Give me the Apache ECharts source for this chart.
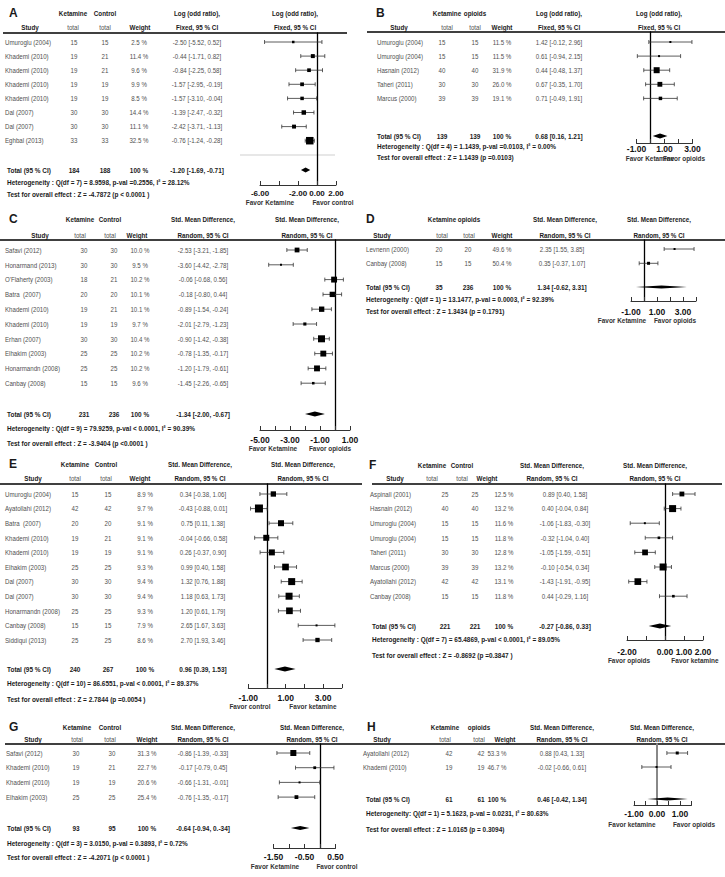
<!DOCTYPE html>
<html><head><meta charset="utf-8">
<script src="https://cdn.jsdelivr.net/npm/echarts@6/dist/echarts.min.js"></script>
<style>html,body{margin:0;padding:0;background:#fff}#c{width:725px;height:877px}</style>
</head><body><div id="c"></div>
<script>
// ---------------- DATA ----------------
// Panel A
const A_study = ['Umuroglu (2004)','Khademi (2010)','Khademi (2010)','Khademi (2010)','Khademi (2010)','Dal (2007)','Dal (2007)','Eghbal (2013)'];
const A_n1 = [15,19,19,19,19,30,30,33];
const A_n2 = [15,21,21,19,19,30,30,33];
const A_weight = [2.5,11.4,9.6,9.9,8.5,14.4,11.1,32.5];
const A_est = [-2.50,-0.44,-0.84,-1.57,-1.57,-1.39,-2.42,-0.76];
const A_lo  = [-5.52,-1.71,-2.25,-2.95,-3.10,-2.47,-3.71,-1.24];
const A_hi  = [0.52,0.82,0.58,-0.19,-0.04,-0.32,-1.13,-0.28];
const A_total = [184,188,-1.20,-1.69,-0.71];
const A_het = 'Heterogeneity : Q(df = 7) = 8.9598, p-val =0.2556, I\u00b2 = 28.12%';
const A_test = 'Test for overall effect : Z = -4.7872 (p < 0.0001 )';
const A_axis = [-6, 2, 2];
const A_tickLabels = [-6, -2, 0, 2];
const A_favor = ['Favor Ketamine','Favor control'];

// Panel B
const B_study = ['Umuroglu (2004)','Umuroglu (2004)','Hasnain (2012)','Taheri (2011)','Marcus (2000)'];
const B_n1 = [15,15,40,30,39];
const B_n2 = [15,15,40,30,39];
const B_weight = [11.5,11.5,31.9,26.0,19.1];
const B_est = [1.42,0.61,0.44,0.67,0.71];
const B_lo  = [-0.12,-0.94,-0.48,-0.35,-0.49];
const B_hi  = [2.96,2.15,1.37,1.70,1.91];
const B_total = [139,139,0.68,0.16,1.21];
const B_het = 'Heterogeneity : Q(df = 4) = 1.1439, p-val =0.0103, I\u00b2 = 0.00%';
const B_test = 'Test for overall effect : Z = 1.1439 (p =0.0103)';
const B_axis = [-1, 3, 1];
const B_tickLabels = [-1, 1, 3];
const B_favor = ['Favor Ketamine','Favor opioids'];

// Panel C
const C_study = ['Safavi (2012)','Honarmand (2013)',"O'Flaherty (2003)",'Batra  (2007)','Khademi (2010)','Khademi (2010)','Erhan (2007)','Elhakim (2003)','Honarmandn (2008)','Canbay (2008)'];
const C_n1 = [30,30,18,20,19,19,30,25,25,15];
const C_n2 = [30,30,21,20,21,19,30,25,25,15];
const C_weight = [10.0,9.5,10.2,10.1,10.1,9.7,10.4,10.2,10.2,9.6];
const C_est = [-2.53,-3.60,-0.06,-0.18,-0.89,-2.01,-0.90,-0.78,-1.20,-1.45];
const C_lo  = [-3.21,-4.42,-0.68,-0.80,-1.54,-2.79,-1.42,-1.35,-1.79,-2.26];
const C_hi  = [-1.85,-2.78,0.56,0.44,-0.24,-1.23,-0.38,-0.17,-0.61,-0.65];
const C_total = [231,236,-1.34,-2.00,-0.67];
const C_het = 'Heterogeneity : Q(df = 9) = 79.9259, p-val < 0.0001, I\u00b2 = 90.39%';
const C_test = 'Test for overall effect : Z = -3.9404 (p <0.0001 )';
const C_axis = [-5, 1, 1];
const C_tickLabels = [-5, -3, -1, 1];
const C_favor = ['Favor Ketamine','Favor opioids'];

// Panel D
const D_study = ['Levnenn (2000)','Canbay (2008)'];
const D_n1 = [20,15];
const D_n2 = [20,15];
const D_weight = [49.6,50.4];
const D_est = [2.35,0.35];
const D_lo  = [1.55,-0.37];
const D_hi  = [3.85,1.07];
const D_total = [35,236,1.34,-0.62,3.31];
const D_het = 'Heterogeneity : Q(df = 1) = 13.1477, p-val = 0.0003, I\u00b2 = 92.39%';
const D_test = 'Test for overall effect : Z = 1.3434 (p = 0.1791)';
const D_axis = [-1, 4, 1];
const D_tickLabels = [-1, 1, 3];
const D_favor = ['Favor Ketamine','Favor opioids'];

// Panel E
const E_study = ['Umuroglu (2004)','Ayatollahi (2012)','Batra  (2007)','Khademi (2010)','Khademi (2010)','Elhakim (2003)','Dal (2007)','Dal (2007)','Honarmandn (2008)','Canbay (2008)','Siddiqui (2013)'];
const E_n1 = [15,42,20,19,19,25,30,30,25,15,25];
const E_n2 = [15,42,20,21,19,25,30,30,25,15,25];
const E_weight = [8.9,9.7,9.1,9.1,9.1,9.3,9.4,9.4,9.3,7.9,8.6];
const E_est = [0.34,-0.43,0.75,-0.04,0.26,0.99,1.32,1.18,1.20,2.65,2.70];
const E_lo  = [-0.38,-0.88,0.11,-0.66,-0.37,0.40,0.76,0.63,0.61,1.67,1.93];
const E_hi  = [1.06,0.01,1.38,0.58,0.90,1.58,1.88,1.73,1.79,3.63,3.46];
const E_total = [240,267,0.96,0.39,1.53];
const E_het = 'Heterogeneity : Q(df = 10) = 86.6551, p-val < 0.0001, I\u00b2 = 89.37%';
const E_test = 'Test for overall effect : Z = 2.7844 (p =0.0054 )';
const E_axis = [-1, 4, 1];
const E_tickLabels = [-1, 1, 3];
const E_favor = ['Favor control','Favor ketamine'];

// Panel F
const F_study = ['Aspinall (2001)','Hasnain (2012)','Umuroglu (2004)','Umuroglu (2004)','Taheri (2011)','Marcus (2000)','Ayatollahi (2012)','Canbay (2008)'];
const F_n1 = [25,40,15,15,30,39,42,15];
const F_n2 = [25,40,15,15,30,39,42,15];
const F_weight = [12.5,13.2,11.6,11.8,12.8,13.2,13.1,11.8];
const F_est = [0.89,0.40,-1.06,-0.32,-1.05,-0.10,-1.43,0.44];
const F_lo  = [0.40,-0.04,-1.83,-1.04,-1.59,-0.54,-1.91,-0.29];
const F_hi  = [1.58,0.84,-0.30,0.40,-0.51,0.34,-0.95,1.16];
const F_total = [221,221,-0.27,-0.86,0.33];
const F_het = 'Heterogeneity : Q(df = 7) = 65.4869, p-val < 0.0001, I\u00b2 = 89.05%';
const F_test = 'Test for overall effect : Z = -0.8692 (p =0.3847 )';
const F_axis = [-2, 2, 1];
const F_tickLabels = [-2, 0, 1, 2];
const F_favor = ['Favor opioids','Favor ketamine'];

// Panel G
const G_study = ['Safavi (2012)','Khademi (2010)','Khademi (2010)','Elhakim (2003)'];
const G_n1 = [30,19,19,25];
const G_n2 = [30,21,19,25];
const G_weight = [31.3,22.7,20.6,25.4];
const G_est = [-0.86,-0.17,-0.66,-0.76];
const G_lo  = [-1.39,-0.79,-1.31,-1.35];
const G_hi  = [-0.33,0.45,-0.01,-0.17];
const G_total = [93,95,-0.64,-0.94,-0.34];
const G_totalText = '-0.64 [-0.94, 0.-34]';
const G_het = 'Heterogeneity : Q(df = 3) = 3.0150, p-val = 0.3893, I\u00b2 = 0.72%';
const G_test = 'Test for overall effect : Z = -4.2071 (p < 0.0001 )';
const G_axis = [-1.5, 0.5, 0.5];
const G_tickLabels = [-1.5, -0.5, 0.5];
const G_favor = ['Favor Ketamine','Favor control'];

// Panel H
const H_study = ['Ayatollahi (2012)','Khademi (2010)'];
const H_n1 = [42,19];
const H_n2 = [42,19];
const H_weight = [53.3,46.7];
const H_est = [0.88,-0.02];
const H_lo  = [0.43,-0.66];
const H_hi  = [1.33,0.61];
const H_total = [61,61,0.46,-0.42,1.34];
const H_het = 'Heterogeneity: Q(df = 1) = 5.1623, p-val = 0.0231, I\u00b2 = 80.63%';
const H_test = 'Test for overall effect : Z = 1.0165 (p = 0.3094)';
const H_axis = [-1, 1.5, 0.5];
const H_tickLabels = [-1, 0, 1];
const H_favor = ['Favor ketamine','Favor opioids'];

const HDR_GROUP = ['Control','opioids','Control','opioids','Control','Control','Control','opioids'];
const HDR_MEASURE = ['Log (odd ratio),','Log (odd ratio),','Std. Mean Difference,','Std. Mean Difference,','Std. Mean Difference,','Std. Mean Difference,','Std. Mean Difference,','Std. Mean Difference,'];
const HDR_METHOD = ['Fixed, 95 % CI','Fixed, 95 % CI','Random, 95 % CI','Random, 95 % CI','Random, 95 % CI','Random, 95 % CI','Random, 95 % CI','Random, 95 % CI'];

// ---------------- LAYOUT (style only) ----------------
const LAYOUT = {
 A:{letter:[9,13], hdrY:[13,27], line:[33,3,347], hdrX:[30,73,105,140,197,295], rowX:[5,74,105,139,197], y0:42, s:14.1, totY:170, hetY:182, testY:194, footX:7, plotL:260, ppu:9.5, axisY:185, lblMargin:4, lblSize:8, favorY:202, favorX:[270,333], sq:[2.5,5], dia:2.5, zero:['#000',1.3]},
 B:{letter:[376,13], hdrY:[13,27], line:[32,367,725], hdrX:[399,447,475,502,559,659], rowX:[377,442,475,502,559], y0:42, s:14.1, totY:136, hetY:146, testY:157, footX:377, plotL:636.5, ppu:14, axisY:143, lblMargin:1, lblSize:8.5, favorY:158, favorX:[650,684], sq:[2,4], dia:2.5, zero:['#000',1.3]},
 C:{letter:[9,219], hdrY:[219,235], line:[240,0,362], hdrX:[40,80,110,137,203,307], rowX:[5,84,114,140,203], y0:250, s:14.8, totY:414, hetY:428, testY:443, footX:7, plotL:260, ppu:15, axisY:430, lblMargin:5, lblSize:8.5, favorY:448, favorX:[273,330], sq:[2,5], dia:2.5, zero:['#000',1.3]},
 D:{letter:[366,219], hdrY:[219,235], line:[240,362,725], hdrX:[382,442,469,502,565,659], rowX:[366,439,468,502,562], y0:249, s:14.3, totY:287, hetY:299, testY:311, footX:366, plotL:631, ppu:13, axisY:301, lblMargin:6, lblSize:8.5, favorY:320, favorX:[622,675], sq:[2,1], dia:1.5, zero:['#000',1.3]},
 E:{letter:[9,464], hdrY:[464,478], line:[484,0,362], hdrX:[33,75,106,140,200,303], rowX:[5,75,108,145,203], y0:494, s:14.6, totY:669, hetY:683, testY:699, footX:7, plotL:248.3, ppu:18.7, axisY:688, lblMargin:5, lblSize:8.5, favorY:706, favorX:[250,313], sq:[2,6], dia:2.5, zero:['#000',1.3]},
 F:{letter:[369,465], hdrY:[465,478], line:[484,372,722], hdrX:[395,432,462,487,552,655], rowX:[370,445,475,504,565], y0:494, s:14.6, totY:626, hetY:639, testY:655, footX:372, plotL:627, ppu:19, axisY:640, lblMargin:7, lblSize:8.5, favorY:660, favorX:[629,695], sq:[2,5], dia:2.5, zero:['#000',1.3]},
 G:{letter:[9,727], hdrY:[727,739], line:[744,5,362], hdrX:[33,77,110,147,203,312], rowX:[6,76,112,147,203], y0:753, s:14.7, totY:828, hetY:843, testY:857, footX:7, plotL:273.5, ppu:31, axisY:848, lblMargin:4, lblSize:8.5, favorY:866, favorX:[275,337], sq:[2,4], dia:2, zero:['#000',1.3]},
 H:{letter:[367,727], hdrY:[727,739], line:[744,362,725], hdrX:[382,445,479,505,562,662], rowX:[363,449,481,497,562], y0:753, s:14, totY:799, hetY:813, testY:829, footX:366, plotL:634, ppu:23, axisY:805, lblMargin:4, lblSize:8.5, favorY:824, favorX:[632,694], sq:[2,1], dia:1.5, zero:['#888',2]}
};

const PANELS = [
 {k:'A', study:A_study,n1:A_n1,n2:A_n2,w:A_weight,est:A_est,lo:A_lo,hi:A_hi,tot:A_total,het:A_het,test:A_test,axis:A_axis,labels:A_tickLabels,favor:A_favor},
 {k:'B', study:B_study,n1:B_n1,n2:B_n2,w:B_weight,est:B_est,lo:B_lo,hi:B_hi,tot:B_total,het:B_het,test:B_test,axis:B_axis,labels:B_tickLabels,favor:B_favor},
 {k:'C', study:C_study,n1:C_n1,n2:C_n2,w:C_weight,est:C_est,lo:C_lo,hi:C_hi,tot:C_total,het:C_het,test:C_test,axis:C_axis,labels:C_tickLabels,favor:C_favor},
 {k:'D', study:D_study,n1:D_n1,n2:D_n2,w:D_weight,est:D_est,lo:D_lo,hi:D_hi,tot:D_total,het:D_het,test:D_test,axis:D_axis,labels:D_tickLabels,favor:D_favor},
 {k:'E', study:E_study,n1:E_n1,n2:E_n2,w:E_weight,est:E_est,lo:E_lo,hi:E_hi,tot:E_total,het:E_het,test:E_test,axis:E_axis,labels:E_tickLabels,favor:E_favor},
 {k:'F', study:F_study,n1:F_n1,n2:F_n2,w:F_weight,est:F_est,lo:F_lo,hi:F_hi,tot:F_total,het:F_het,test:F_test,axis:F_axis,labels:F_tickLabels,favor:F_favor},
 {k:'G', study:G_study,n1:G_n1,n2:G_n2,w:G_weight,est:G_est,lo:G_lo,hi:G_hi,tot:G_total,totText:G_totalText,het:G_het,test:G_test,axis:G_axis,labels:G_tickLabels,favor:G_favor},
 {k:'H', study:H_study,n1:H_n1,n2:H_n2,w:H_weight,est:H_est,lo:H_lo,hi:H_hi,tot:H_total,het:H_het,test:H_test,axis:H_axis,labels:H_tickLabels,favor:H_favor}
];

// ---------------- BUILD ----------------
const FONT = '"Liberation Sans", Arial, Helvetica, sans-serif';
function T(x, y, text, o) {
  o = o || {};
  return {type:'text', x:x, y:y, scaleX:(o.sx || 0.82), silent:true, z:10,
    style:{text:String(text), x:0, y:0, fill:(o.c || '#505050'), fontSize:(o.s || 7.5), fontWeight:(o.w || 'normal'), fontFamily:FONT,
      textAlign:(o.a || 'center'), textVerticalAlign:'middle'}};
}
function L(x1, y1, x2, y2, c, w) {
  return {type:'line', silent:true, shape:{x1:x1,y1:y1,x2:x2,y2:y2}, style:{stroke:c, lineWidth:w}};
}
const fmt = v => v.toFixed(2);
const ciText = (e, l, h) => fmt(e) + ' [' + fmt(l) + ', ' + fmt(h) + ']';

const grids = [], xAxes = [], yAxes = [], series = [], graphics = [];
const DARK = '#1a1a1a', BOLD = {w:'bold', c:DARK, sx:0.84};

PANELS.forEach((P, gi) => {
  const Ly = LAYOUT[P.k];
  const [xmin, xmax, step] = P.axis;
  // headers
  graphics.push(T(Ly.letter[0], Ly.letter[1], P.k, {a:'left', w:'bold', s:12, c:DARK, sx:1}));
  graphics.push(T(Ly.hdrX[1], Ly.hdrY[0], 'Ketamine', BOLD));
  graphics.push(T(Ly.hdrX[2], Ly.hdrY[0], HDR_GROUP[gi], BOLD));
  graphics.push(T(Ly.hdrX[4], Ly.hdrY[0], HDR_MEASURE[gi], BOLD));
  graphics.push(T(Ly.hdrX[5], Ly.hdrY[0], HDR_MEASURE[gi], BOLD));
  graphics.push(T(Ly.hdrX[0], Ly.hdrY[1], 'Study', BOLD));
  graphics.push(T(Ly.hdrX[1], Ly.hdrY[1], 'total'));
  graphics.push(T(Ly.hdrX[2], Ly.hdrY[1], 'total'));
  graphics.push(T(Ly.hdrX[3], Ly.hdrY[1], 'Weight', BOLD));
  graphics.push(T(Ly.hdrX[4], Ly.hdrY[1], HDR_METHOD[gi], BOLD));
  graphics.push(T(Ly.hdrX[5], Ly.hdrY[1], HDR_METHOD[gi], BOLD));
  graphics.push(L(Ly.line[1], Ly.line[0], Ly.line[2], Ly.line[0], '#000', 1.3));
  // study rows
  P.study.forEach((s, i) => {
    const y = Ly.y0 + i * Ly.s;
    graphics.push(T(Ly.rowX[0], y, s, {a:'left'}));
    graphics.push(T(Ly.rowX[1], y, P.n1[i]));
    graphics.push(T(Ly.rowX[2], y, P.n2[i]));
    graphics.push(T(Ly.rowX[3], y, P.w[i].toFixed(1) + ' %'));
    graphics.push(T(Ly.rowX[4], y, ciText(P.est[i], P.lo[i], P.hi[i])));
  });
  // total + footer
  const tb = {w:'bold', c:DARK, sx:0.86};
  graphics.push(T(Ly.footX, Ly.totY, 'Total (95 % CI)', Object.assign({a:'left'}, tb)));
  graphics.push(T(Ly.rowX[1], Ly.totY, P.tot[0], tb));
  graphics.push(T(Ly.rowX[2], Ly.totY, P.tot[1], tb));
  graphics.push(T(Ly.rowX[3], Ly.totY, '100 %', tb));
  graphics.push(T(Ly.rowX[4], Ly.totY, P.totText || ciText(P.tot[2], P.tot[3], P.tot[4]), tb));
  graphics.push(T(Ly.footX, Ly.hetY, P.het, Object.assign({a:'left'}, tb)));
  graphics.push(T(Ly.footX, Ly.testY, P.test, Object.assign({a:'left'}, tb)));
  graphics.push(T(Ly.favorX[0], Ly.favorY, P.favor[0], {w:'bold', c:'#333', sx:0.86}));
  graphics.push(T(Ly.favorX[1], Ly.favorY, P.favor[1], {w:'bold', c:'#333', sx:0.86}));

  // grid + axes
  const lineY = Ly.line[0];
  grids.push({left:Ly.plotL, top:lineY, width:(xmax - xmin) * Ly.ppu, height:Ly.axisY - lineY, containLabel:false});
  const shown = P.labels;
  xAxes.push({gridIndex:gi, type:'value', min:xmin, max:xmax, interval:step, position:'bottom',
    axisLine:{onZero:false, lineStyle:{color:'#333', width:1}},
    axisTick:{inside:true, length:4, lineStyle:{color:'#333', width:1}},
    splitLine:{show:false},
    axisLabel:{margin:Ly.lblMargin, fontSize:Ly.lblSize, fontWeight:'bold', color:'#111', fontFamily:FONT,
      formatter: v => shown.some(t => Math.abs(t - v) < 1e-9) ? v.toFixed(2) : ''}});
  const ymin = (lineY - Ly.y0) / Ly.s, ymax = (Ly.axisY - Ly.y0) / Ly.s;
  yAxes.push({gridIndex:gi, type:'value', inverse:true, min:ymin, max:ymax,
    axisLine:{show:true, onZero:true, lineStyle:{color:Ly.zero[0], width:Ly.zero[1]}},
    axisTick:{show:false}, axisLabel:{show:false}, splitLine:{show:false}});

  // marks
  const wmin = Math.min(...P.w), wmax = Math.max(...P.w);
  const data = P.est.map((e, i) => {
    const sz = Ly.sq[0] + Ly.sq[1] * (wmax > wmin ? (P.w[i] - wmin) / (wmax - wmin) : 0.5);
    return [e, P.lo[i], P.hi[i], i, sz, 0];
  });
  data.push([P.tot[2], P.tot[3], P.tot[4], (Ly.totY - Ly.y0) / Ly.s, Ly.dia, 1]);
  series.push({type:'custom', xAxisIndex:gi, yAxisIndex:gi, clip:false, silent:true, animation:false,
    encode:{x:[1,2], y:3}, data:data,
    renderItem:function(params, api) {
      const e = api.value(0), lo = api.value(1), hi = api.value(2), r = api.value(3), sz = api.value(4), kind = api.value(5);
      const pL = api.coord([lo, r]), pR = api.coord([hi, r]), pE = api.coord([e, r]);
      if (kind === 1) {
        return {type:'polygon', shape:{points:[[pL[0],pL[1]],[pE[0],pE[1]-sz],[pR[0],pR[1]],[pE[0],pE[1]+sz]]}, style:{fill:'#000'}};
      }
      const st = {stroke:'#333', lineWidth:0.8};
      return {type:'group', children:[
        {type:'line', shape:{x1:pL[0],y1:pL[1],x2:pR[0],y2:pR[1]}, style:st},
        {type:'line', shape:{x1:pL[0],y1:pL[1]-2,x2:pL[0],y2:pL[1]+2}, style:st},
        {type:'line', shape:{x1:pR[0],y1:pR[1]-2,x2:pR[0],y2:pR[1]+2}, style:st},
        {type:'rect', shape:{x:pE[0]-sz/2, y:pE[1]-sz/2, width:sz, height:sz}, style:{fill:'#000'}}
      ]};
    }});
});
// faint separator in panel A plot
graphics.push(L(240, 155, 335, 155, '#cfcfcf', 1));

const chart = echarts.init(document.getElementById('c'), null, {renderer:'svg', width:725, height:877});
chart.setOption({animation:false, backgroundColor:'#fff', grid:grids, xAxis:xAxes, yAxis:yAxes, series:series, graphic:{elements:graphics}});
</script>
</body></html>
